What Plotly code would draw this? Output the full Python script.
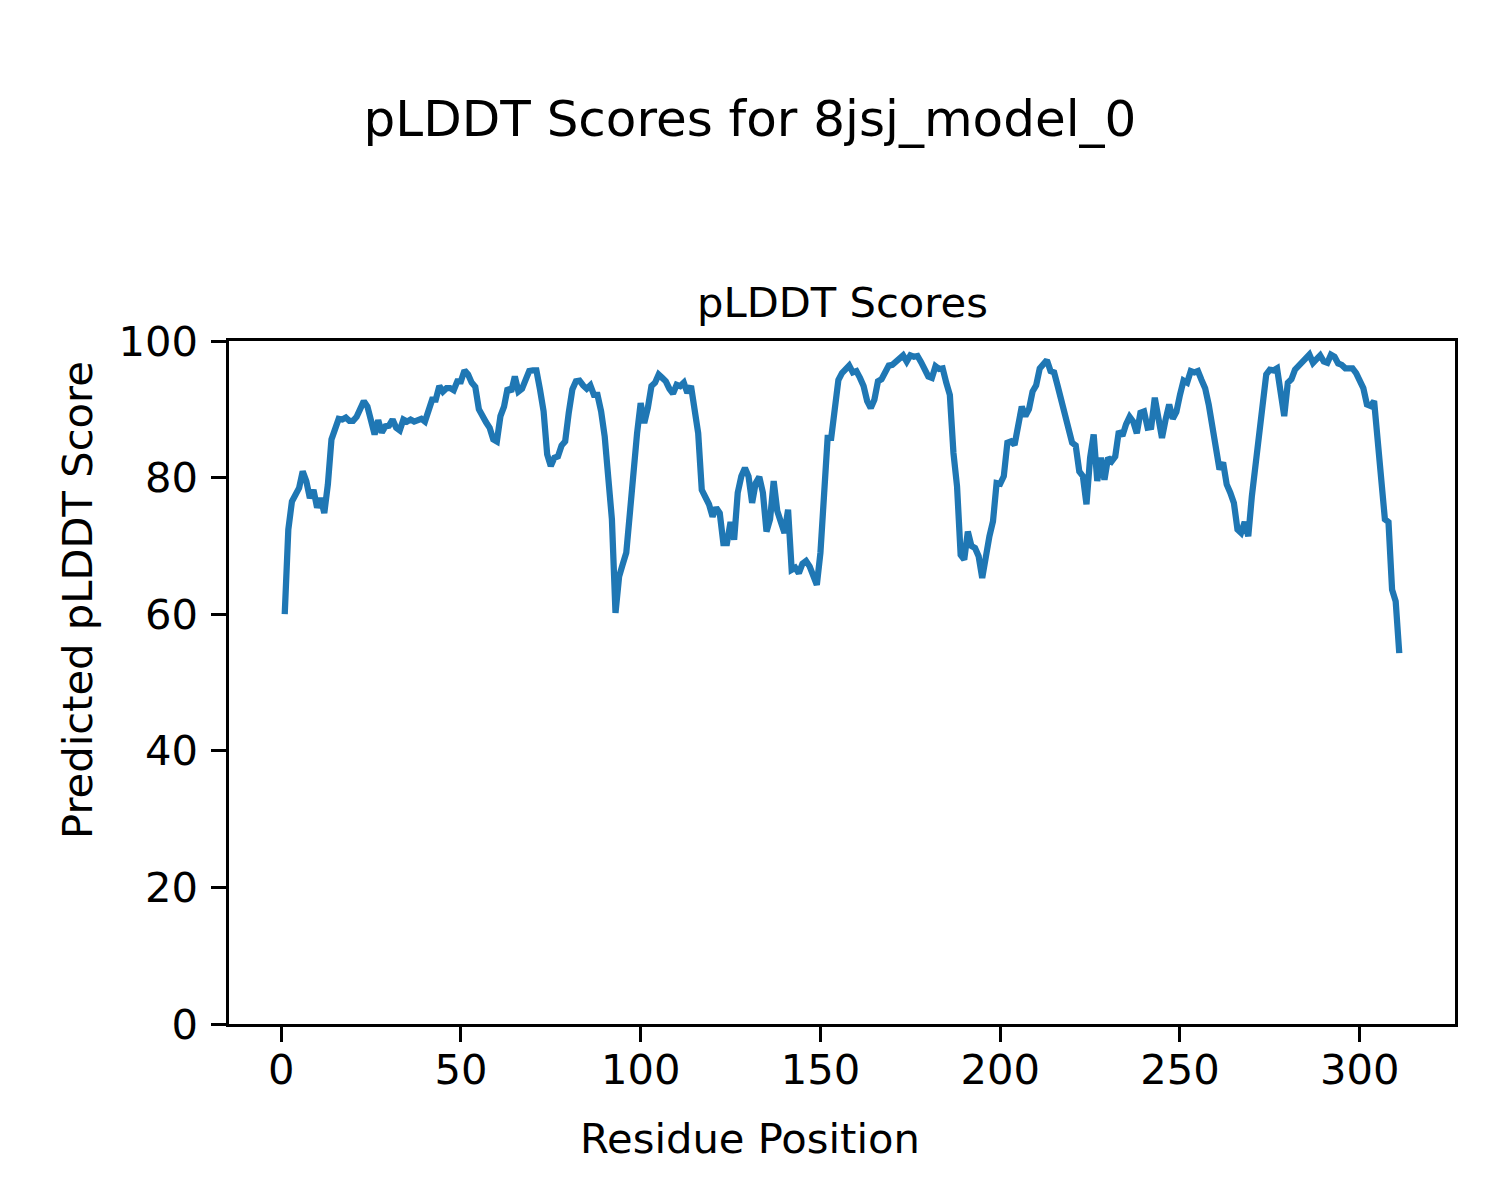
import plotly.graph_objects as go

residues = list(range(1, 312))
plddt = [
    60.0, 72.4, 76.5, 77.5, 78.5, 80.9, 79.5, 77.0, 78.2, 75.6,
    77.0, 74.8, 79.0, 85.6, 87.5, 88.6, 88.5, 88.8, 88.3, 88.3,
    88.9, 90.0, 91.2, 90.4, 88.2, 86.3, 88.4, 86.6, 87.5, 87.6,
    88.5, 87.3, 86.9, 88.5, 88.2, 88.5, 88.2, 88.5, 88.6, 88.2,
    90.0, 91.4, 91.4, 93.4, 92.6, 93.1, 93.1, 92.8, 94.1, 94.1,
    95.7, 95.1, 93.9, 93.3, 90.0, 88.9, 88.1, 87.3, 85.6, 85.3,
    89.0, 90.4, 93.1, 92.6, 94.8, 92.6, 93.0, 94.3, 95.6, 95.7,
    95.7, 92.9, 89.7, 83.4, 81.7, 82.9, 83.1, 84.7, 85.3, 89.5,
    92.9, 94.1, 94.2, 93.5, 93.0, 93.5, 92.1, 92.1, 89.7, 86.0,
    80.7, 73.9, 60.2, 65.5, 67.3, 69.0, 74.8, 81.2, 86.5, 90.9,
    88.0, 90.2, 93.4, 93.9, 95.1, 94.6, 94.1, 93.0, 92.3, 93.6,
    93.4, 93.9, 92.4, 93.4, 90.4, 86.5, 78.2, 77.0, 76.1, 74.3,
    75.6, 74.8, 70.4, 70.4, 73.5, 70.9, 77.8, 80.2, 81.4, 80.2,
    76.3, 79.2, 80.1, 77.8, 72.1, 73.9, 79.5, 75.1, 73.4, 71.9,
    75.3, 66.5, 66.8, 66.0, 67.4, 67.8, 67.0, 65.6, 64.3, 69.0,
    77.8, 85.8, 85.8, 90.4, 94.3, 95.3, 96.0, 96.4, 95.4, 95.6,
    94.6, 93.4, 91.2, 90.2, 91.4, 94.1, 94.4, 95.6, 96.4, 96.5,
    96.9, 97.4, 97.9, 97.0, 97.9, 97.7, 97.8, 96.9, 95.8, 94.8,
    94.6, 96.3, 95.9, 96.0, 93.9, 92.1, 83.6, 78.7, 68.7, 68.0,
    72.1, 70.0, 69.7, 68.5, 65.3, 69.0, 71.4, 73.6, 79.2, 79.1,
    80.2, 85.1, 85.3, 84.8, 87.8, 90.4, 89.0, 90.0, 92.6, 93.5,
    96.0, 96.8, 97.2, 95.6, 95.4, 93.4, 91.4, 88.9, 87.5, 85.1,
    84.7, 80.9, 80.2, 76.1, 82.9, 86.3, 79.5, 82.9, 79.7, 82.9,
    82.4, 83.1, 86.8, 86.1, 87.8, 88.9, 88.2, 86.5, 89.5, 89.7,
    87.3, 87.4, 91.7, 89.2, 85.8, 88.5, 90.7, 88.6, 89.6, 92.1,
    94.2, 93.9, 95.6, 95.4, 95.6, 94.3, 93.1, 90.7, 87.8, 84.3,
    81.2, 82.2, 79.0, 77.8, 76.3, 72.4, 71.9, 73.5, 71.4, 77.3,
    81.7, 87.0, 91.9, 95.1, 95.8, 95.7, 96.0, 91.9, 89.0, 93.9,
    94.4, 95.8, 96.3, 96.7, 97.2, 98.0, 96.8, 97.4, 97.9, 97.0,
    96.8, 98.0, 97.7, 96.7, 96.5, 96.0, 96.0, 96.0, 95.3, 94.1,
    93.1, 90.7, 90.5, 91.2, 85.6, 79.7, 73.9, 73.5, 63.6, 61.9,
    54.3,
]

suptitle = "pLDDT Scores for 8jsj_model_0"
axes_title = "pLDDT Scores"
x_label = "Residue Position"
y_label = "Predicted pLDDT Score"
x_ticks = [0, 50, 100, 150, 200, 250, 300]
y_ticks = [0, 20, 40, 60, 80, 100]

FONT = "DejaVu Sans"
FS = 41.67
W, H = 1500, 1200
L, R, T, B = 229, 45, 341, 176
PW, PH = W - L - R, H - T - B

fig = go.Figure()
fig.add_trace(go.Scatter(x=residues, y=plddt, mode="lines",
                         line=dict(color="#1f77b4", width=6.25),
                         showlegend=False, hoverinfo="skip"))

span = residues[-1] - residues[0]
axis_common = dict(showgrid=False, zeroline=False, showline=True, linecolor="black",
                   linewidth=3.3, mirror=True, ticks="outside", ticklen=14.6,
                   tickwidth=3.3, tickcolor="black",
                   tickfont=dict(family=FONT, size=FS, color="black"))
fig.update_xaxes(range=[residues[0] - 0.05 * span, residues[-1] + 0.05 * span],
                 tickvals=x_ticks, ticktext=[str(t) for t in x_ticks],
                 ticklabelstandoff=-8, **axis_common)
fig.update_yaxes(range=[0, 100], tickvals=y_ticks, ticktext=[str(t) for t in y_ticks],
                 ticklabelstandoff=5, **axis_common)

# figure-centred axis labels (like fig.supxlabel / supylabel)
xlab_x = (W / 2 - L) / PW
ylab_y = ((H - B) - H / 2) / PH

fig.update_layout(
    width=W, height=H,
    margin=dict(l=L, r=R, t=T, b=B, autoexpand=False),
    paper_bgcolor="white", plot_bgcolor="white",
    font=dict(family=FONT, color="black"),
    title=dict(text=suptitle, x=0.5, xref="container", xanchor="center",
               y=1 - 118 / 1200, yref="container", yanchor="middle",
               font=dict(family=FONT, size=50, color="black")),
    annotations=[
        dict(text=axes_title, x=0.5, xref="paper", y=1, yref="paper",
             yanchor="middle", xanchor="center", yshift=39, showarrow=False,
             font=dict(family=FONT, size=FS, color="black")),
        dict(text=x_label, x=xlab_x, xref="paper", y=0, yref="paper",
             yanchor="middle", xanchor="center", yshift=-114, showarrow=False,
             font=dict(family=FONT, size=FS, color="black")),
        dict(text=y_label, x=0, xref="paper", y=ylab_y, yref="paper",
             yanchor="middle", xanchor="center", xshift=-152, textangle=-90,
             showarrow=False, font=dict(family=FONT, size=FS, color="black")),
    ],
)
fig.write_html("out.html", config={"displayModeBar": False},
               post_script="document.body.style.margin='0';")
